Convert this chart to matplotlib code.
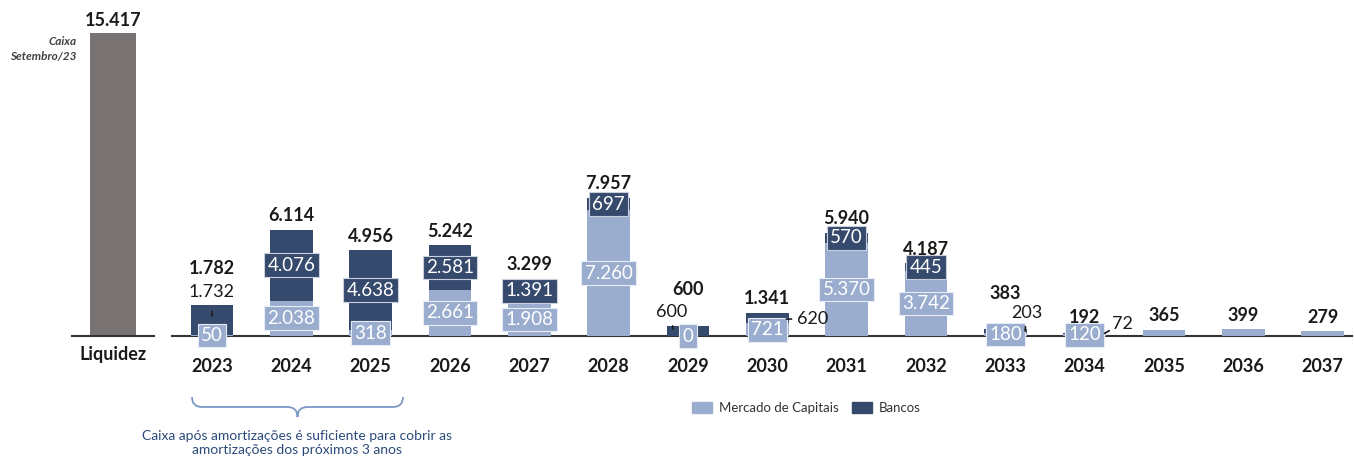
import numpy as np
import matplotlib.pyplot as plt
from matplotlib.patches import Patch, PathPatch
from matplotlib.path import Path

plt.rcParams['font.family'] = ['Lato', 'DejaVu Sans']

W, H = 1354, 457

# data (R$ milhoes)
liquidez = 15417
anos = ['2023', '2024', '2025', '2026', '2027', '2028', '2029', '2030',
        '2031', '2032', '2033', '2034', '2035', '2036', '2037']
mercado = [50, 2038, 318, 2661, 1908, 7260, 0, 721, 5370, 3742, 180, 120, 365, 399, 279]
bancos = [1732, 4076, 4638, 2581, 1391, 697, 600, 620, 570, 445, 203, 72, 0, 0, 0]
lbl_mercado = ['50', '2.038', '318', '2.661', '1.908', '7.260', '0', '721', '5.370',
               '3.742', '180', '120', '', '', '']
lbl_bancos = ['1.732', '4.076', '4.638', '2.581', '1.391', '697', '600', '620', '570',
              '445', '203', '72', '', '', '']
lbl_total = ['1.782', '6.114', '4.956', '5.242', '3.299', '7.957', '600', '1.341', '5.940',
             '4.187', '383', '192', '365', '399', '279']

c_dark = '#364a6e'
c_light = '#9aadcf'
c_gray = '#787372'
c_base = '#333333'


def fx(px):
    return px / W


def fy(py):
    return 1 - py / H


fig = plt.figure(figsize=(W / 100, H / 100), dpi=100)

# ---- Liquidez axis
axl = fig.add_axes([fx(72), fy(336), fx(82), (336 - 20) / H])
axl.bar([0], [liquidez], width=0.55, color=c_gray)
axl.set_xlim(-0.5, 0.5)
axl.set_ylim(0, 316 / 0.01965)
axl.annotate('15.417', (0, liquidez), xytext=(0, 3), textcoords='offset points',
             ha='center', va='bottom', fontsize=13, fontweight='bold', color='#1a1a1a')
axl.set_xticks([0])
axl.set_xticklabels(['Liquidez'], fontsize=13, fontweight='bold', color='#1a1a1a')
axl.tick_params(axis='x', length=0, pad=7)
axl.set_yticks([])
for s in ['top', 'right', 'left']:
    axl.spines[s].set_visible(False)
axl.spines['bottom'].set_color(c_base)
axl.spines['bottom'].set_linewidth(1.5)

fig.text(fx(77), fy(49), 'Caixa\nSetembro/23', ha='right', va='center', fontsize=8.5,
         fontweight='bold', fontstyle='italic', color='#404040', linespacing=1.35)

# ---- main axis
ax = fig.add_axes([fx(172), fy(336), fx(1352 - 172), (336 - 150) / H])
x = np.arange(len(anos))
merc = np.array(mercado)
banc = np.array(bancos)
ax.bar(x, merc, width=0.54, color=c_light, zorder=2)
ax.bar(x, banc, width=0.54, bottom=merc, color=c_dark, zorder=2)
ax.set_xlim(-0.504, 14.37)
ax.set_ylim(0, 186 / 0.01734)
ax.set_xticks(x)
ax.set_xticklabels(anos, fontsize=13, fontweight='bold', color='#1a1a1a')
ax.tick_params(axis='x', length=0, pad=16)
ax.set_yticks([])
for s in ['top', 'right', 'left']:
    ax.spines[s].set_visible(False)
ax.spines['bottom'].set_color(c_base)
ax.spines['bottom'].set_linewidth(1.5)
ax.spines['bottom'].set_zorder(1)

# labels inside bars
outside = {0, 6, 7, 10, 11}
for i in range(len(anos)):
    if lbl_mercado[i]:
        ax.text(i, merc[i] / 2, lbl_mercado[i], ha='center', va='center', fontsize=13.5,
                color='white', zorder=4,
                bbox=dict(boxstyle='square,pad=0.18', fc=c_light, ec='#e8edf5', lw=0.8))
    if lbl_bancos[i] and i not in outside:
        ax.text(i, merc[i] + banc[i] / 2, lbl_bancos[i], ha='center', va='center',
                fontsize=13.5, color='white', zorder=4,
                bbox=dict(boxstyle='square,pad=0.18', fc=c_dark, ec='#c9d0dc', lw=0.8))

# Bancos labels outside the bar, with leaders: (xy dx, fraction of total, text offset pt)
lead = {0: (0.0, 0.65, (0, 17), 6),
        6: (-0.19, 0.67, (-1, 12), 2),
        7: (0.24, 0.73, (19, 0), 2),
        10: (0.25, 0.73, (1, 13), 2),
        11: (0.25, 0.81, (13, 7), 0)}
for i, (dx, frac, off, shr) in lead.items():
    tot = merc[i] + banc[i]
    ax.annotate(lbl_bancos[i], (i + dx, tot * frac), xytext=off, textcoords='offset points',
                ha='center', va='center', fontsize=13, color='#1a1a1a', zorder=5,
                arrowprops=dict(arrowstyle='-', color='#1a1a1a', lw=1.2,
                                shrinkA=shr, shrinkB=0))

# totals
tot_off = {0: 20, 6: 20, 10: 20, 11: 5}
for i in range(len(anos)):
    ax.annotate(lbl_total[i], (i, merc[i] + banc[i]), xytext=(0, tot_off.get(i, 4)),
                textcoords='offset points', ha='center', va='bottom', fontsize=13,
                fontweight='bold', color='#1a1a1a', zorder=6)

# ---- brace under 2023-2025
bx0, bx1, bm = 192, 403, 297.5
by0, by1, by2 = 397, 407, 417
verts = [(bx0, by0), (bx0, by1), (bx0 + 10, by1), (bm - 10, by1), (bm, by1), (bm, by2),
         (bm, by1), (bm + 10, by1), (bx1 - 10, by1), (bx1, by1), (bx1, by0)]
codes = [Path.MOVETO, Path.CURVE3, Path.CURVE3, Path.LINETO, Path.CURVE3, Path.CURVE3,
         Path.CURVE3, Path.CURVE3, Path.LINETO, Path.CURVE3, Path.CURVE3]
verts = [(fx(a), fy(b)) for a, b in verts]
fig.patches.append(PathPatch(Path(verts, codes), fc='none', ec='#7b98c6', lw=1.3,
                             transform=fig.transFigure))
fig.text(fx(bm), fy(443), 'Caixa após amortizações é suficiente para cobrir as\n'
         'amortizações dos próximos 3 anos', ha='center', va='center', fontsize=10,
         color='#2b4a7a', linespacing=1.2)

# ---- legend
handles = [Patch(color=c_light), Patch(color=c_dark)]
fig.legend(handles, ['Mercado de Capitais', 'Bancos'], loc='center left',
           bbox_to_anchor=(fx(680), fy(408)), ncol=2, frameon=False, fontsize=9.5,
           handlelength=1.5, handleheight=0.9, handletextpad=0.55, columnspacing=1.0,
           labelcolor='#333333')

plt.savefig('out.png', dpi=100)
